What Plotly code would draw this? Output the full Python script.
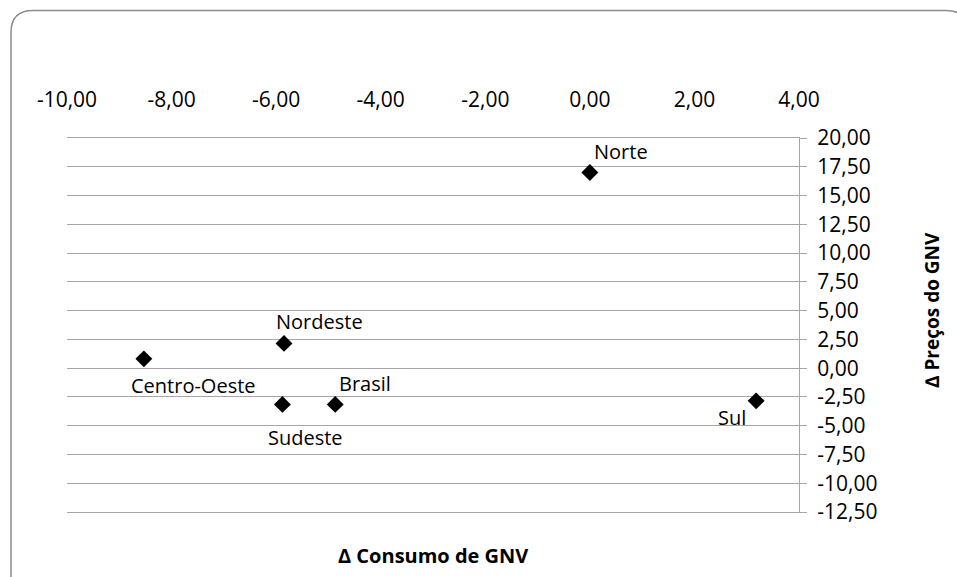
import plotly.graph_objects as go

# Variação do consumo (x) e dos preços (y) de GNV por região
regioes = ["Norte", "Nordeste", "Centro-Oeste", "Sudeste", "Brasil", "Sul"]
consumo = [0.00, -5.85, -8.53, -5.88, -4.87, 3.18]
precos = [17.00, 2.15, 0.81, -3.15, -3.15, -2.84]

x_ticks = [-10, -8, -6, -4, -2, 0, 2, 4]
y_ticks = [-12.5, -10, -7.5, -5, -2.5, 0, 2.5, 5, 7.5, 10, 12.5, 15, 17.5, 20]
x_ticktext = [f"{v:.2f}".replace(".", ",") for v in x_ticks]
y_ticktext = [f"{v:.2f}".replace(".", ",") for v in y_ticks]

# label offsets in pixels (right, up) relative to each point
label_shift = {
    "Norte": (31, 21),
    "Nordeste": (36, 22),
    "Centro-Oeste": (50, -27),
    "Sudeste": (23, -33),
    "Brasil": (30, 21),
    "Sul": (-24, -17),
}

W, H = 957, 577
ML, MR, MT, MB = 67, 158, 138, 65
PW, PH = W - ML - MR, H - MT - MB
FONT = "Open Sans"
GRID = "#a6a6a6"


def px(x):
    return (x - ML) / PW


def py(y):
    return (H - MB - y) / PH


fig = go.Figure()
fig.add_trace(go.Scatter(
    x=consumo, y=precos, mode="markers",
    marker=dict(symbol="diamond", size=13, color="black"),
    hoverinfo="text", text=regioes, showlegend=False,
))

annotations = []
for nome, cx, cy in zip(regioes, consumo, precos):
    dx, dy = label_shift[nome]
    annotations.append(dict(
        x=cx, y=cy, xref="x", yref="y", text=nome, showarrow=False,
        xshift=dx, yshift=dy, font=dict(family=FONT, size=20, color="black"),
    ))

annotations.append(dict(
    x=0.5, y=py(555), xref="paper", yref="paper", showarrow=False,
    xanchor="center", yanchor="middle",
    text="<b>Δ Consumo de GNV</b>", font=dict(family=FONT, size=20, color="black"),
))
annotations.append(dict(
    x=px(932), y=py(310), xref="paper", yref="paper", showarrow=False,
    xanchor="center", yanchor="middle",
    textangle=-90, text="<b>∆ Preços do GNV</b>",
    font=dict(family=FONT, size=19, color="black"),
))

# rounded chart-area border
L, T, R, B, r = 11, 10.5, 968, 590, 22
border = (
    f"M {px(L)} {py(B)} L {px(L)} {py(T + r)} "
    f"Q {px(L)} {py(T)} {px(L + r)} {py(T)} "
    f"L {px(R - r)} {py(T)} Q {px(R)} {py(T)} {px(R)} {py(T + r)} "
    f"L {px(R)} {py(B)}"
)

y_min, y_max = -12.5, 20
x_min, x_max = -10, 4

fig.update_layout(
    width=W, height=H,
    margin=dict(l=ML, r=MR, t=MT, b=MB),
    paper_bgcolor="white", plot_bgcolor="white",
    font=dict(family=FONT, size=21, color="black"),
    annotations=annotations,
    shapes=[dict(type="path", path=border, xref="paper", yref="paper",
                 line=dict(color="#8c8c8c", width=1.5), layer="above")],
    xaxis=dict(
        range=[x_min, x_max], side="top", tickmode="array",
        tickvals=x_ticks, ticktext=x_ticktext, showgrid=False,
        zeroline=False, showline=True, mirror=True, linecolor=GRID,
        linewidth=1, ticks="", ticklabelstandoff=22,
        tickfont=dict(family=FONT, size=21, color="black"),
    ),
    xaxis2=dict(
        range=[x_min, x_max], overlaying="x", matches="x", side="top",
        anchor="free", position=(0 - y_min) / (y_max - y_min),
        tickmode="array", tickvals=x_ticks, showticklabels=False,
        ticks="outside", ticklen=7, tickcolor=GRID, tickwidth=1,
        showgrid=False, zeroline=False, showline=False,
    ),
    yaxis=dict(
        range=[y_min, y_max], side="right", tickmode="array",
        tickvals=y_ticks, ticktext=y_ticktext, showgrid=True,
        gridcolor=GRID, gridwidth=1, zeroline=False, showline=True,
        linecolor=GRID, linewidth=1, ticks="outside", ticklen=7,
        tickcolor=GRID, ticklabelstandoff=6,
        tickfont=dict(family=FONT, size=21, color="black"),
    ),
)

fig.write_html("out.html")
